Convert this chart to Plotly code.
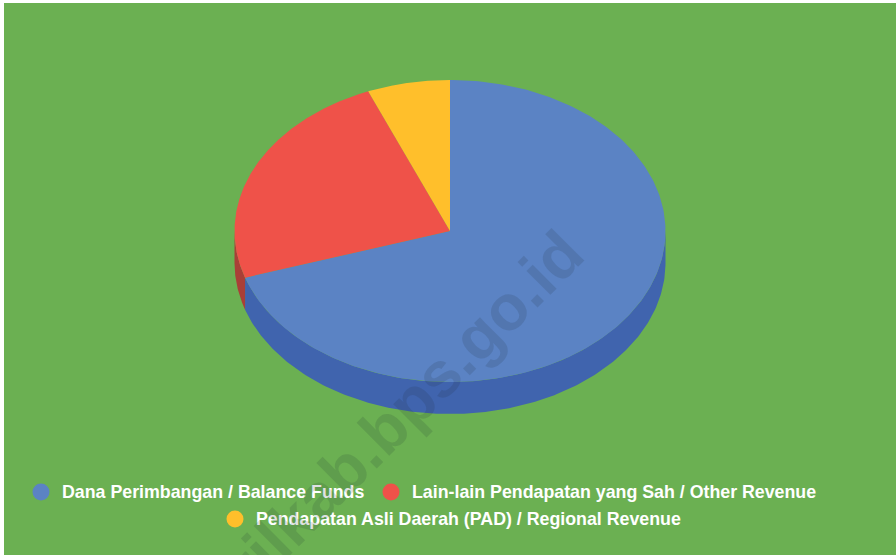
import numpy as np
import plotly.graph_objects as go

labels = ["Dana Perimbangan / Balance Funds", "Lain-lain Pendapatan yang Sah / Other Revenue", "Pendapatan Asli Daerah (PAD) / Regional Revenue"]
values = [70.0, 23.8, 6.2]
top_colors = ["#5B83C4", "#EF5249", "#FFBF2B"]
side_colors = ["#4064AE", "#A93F37", "#C99A20"]

CX, CY, RX, RY, DEPTH = 450, 324, 215.5, 151, 32  # y measured upward from the page bottom


def ellipse(theta):
    return CX + RX * np.sin(theta), CY + RY * np.cos(theta)


fig = go.Figure()
fracs = np.array(values) / sum(values)
edges = np.concatenate([[0], np.cumsum(fracs)]) * 2 * np.pi

# side walls (visible only on the front half)
for i in range(len(values)):
    lo, hi = max(edges[i], np.pi / 2), min(edges[i + 1], 3 * np.pi / 2)
    if hi <= lo:
        continue
    t = np.linspace(lo, hi, 200)
    x, y = ellipse(t)
    fig.add_trace(go.Scatter(
        x=np.concatenate([x, x[::-1]]), y=np.concatenate([y, y[::-1] - DEPTH]),
        mode="lines", fill="toself", fillcolor=side_colors[i], line=dict(width=0),
        hoverinfo="skip", showlegend=False))

# top faces
for i, label in enumerate(labels):
    t = np.linspace(edges[i], edges[i + 1], 300)
    x, y = ellipse(t)
    fig.add_trace(go.Scatter(
        x=np.concatenate([[CX], x, [CX]]), y=np.concatenate([[CY], y, [CY]]),
        mode="lines", fill="toself", fillcolor=top_colors[i], line=dict(width=0),
        name=label, text=f"{label}: {values[i]}%", hoverinfo="text", showlegend=False))

# legend rows as real markers + text
rows = [(41, 62, 492, 0), (391, 412, 492, 1), (235, 256, 519, 2)]
for mx, tx, py, i in rows:
    fig.add_trace(go.Scatter(x=[mx], y=[555 - py], mode="markers",
                             marker=dict(size=17, color=top_colors[i], line=dict(width=0)),
                             hoverinfo="skip", showlegend=False))
    fig.add_annotation(x=tx - 2, y=555 - py, xref="x", yref="y", text=f"<b>{labels[i]}</b>", showarrow=False,
                       xanchor="left", yanchor="middle",
                       font=dict(family="Liberation Sans", size=17.8, color="white"))

# watermark
fig.add_annotation(x=397, y=555 - 417, xref="x", yref="y", text="<b>trilkab.bps.go.id</b>", showarrow=False, textangle=-45,
                   font=dict(family="Liberation Sans", size=64, color="rgba(30,40,50,0.14)"))

fig.update_xaxes(range=[0, 896], visible=False, fixedrange=True)
fig.update_yaxes(range=[0, 555], visible=False, fixedrange=True)
fig.update_layout(
    width=896, height=555, margin=dict(l=0, r=0, t=0, b=0), autosize=False,
    paper_bgcolor="white", plot_bgcolor="white",
    shapes=[dict(type="rect", xref="x", yref="y", x0=4, x1=896, y0=0, y1=552,
                 fillcolor="#6BB052", line=dict(width=0), layer="below")],
)
fig.write_html("out.html", config={"displayModeBar": False},
               post_script="document.body.style.margin='0';document.body.style.overflow='hidden';")
